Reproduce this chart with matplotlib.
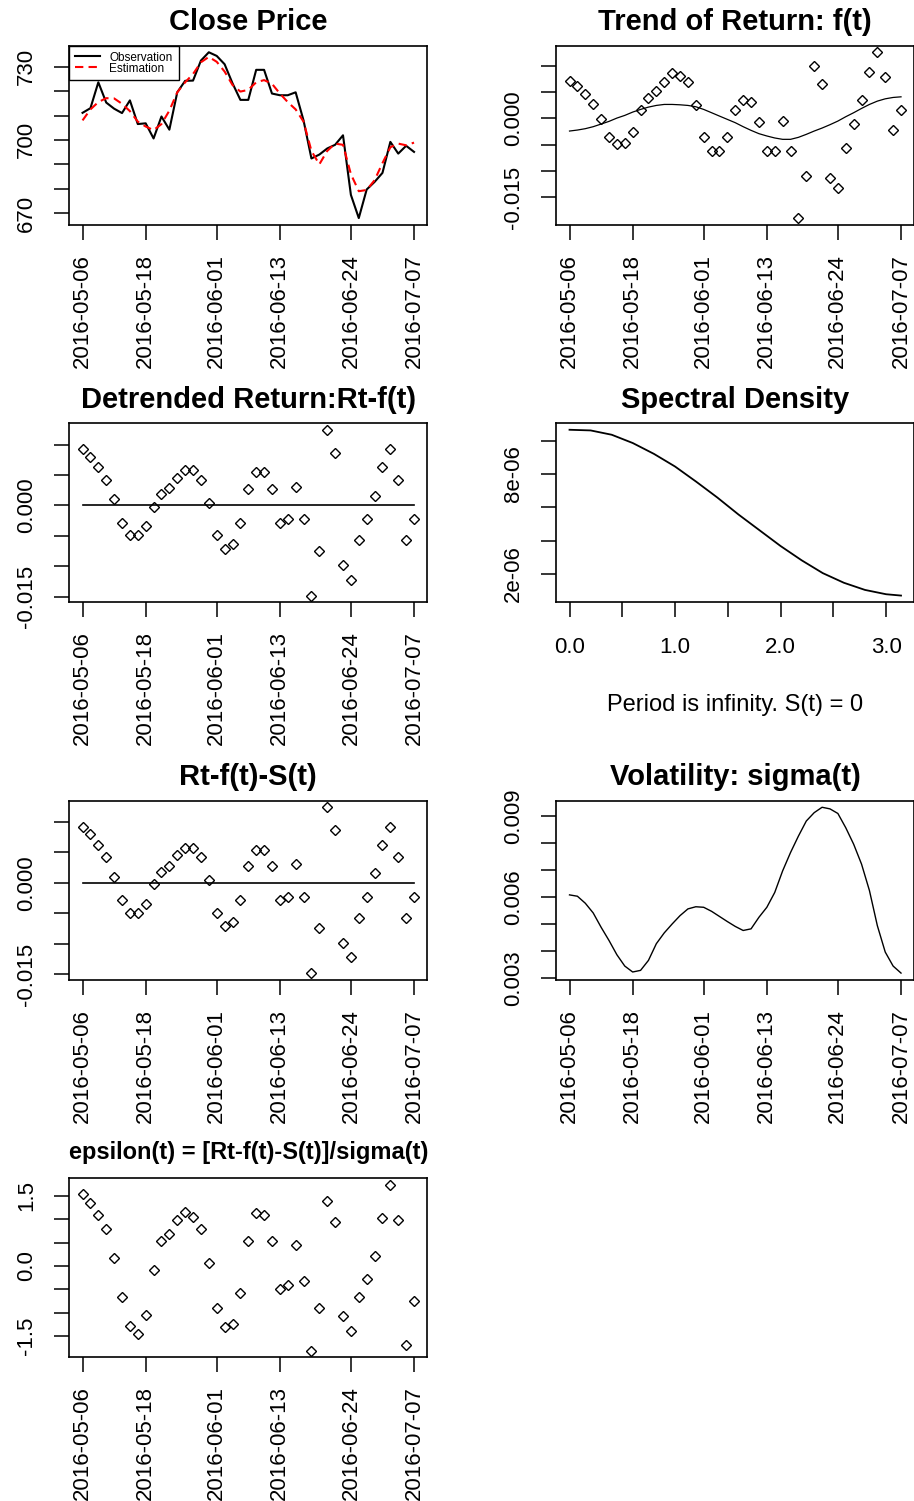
import numpy as np
import matplotlib.pyplot as plt

plt.rcParams['font.family'] = ['Liberation Sans', 'DejaVu Sans']
plt.rcParams['axes.xmargin'] = 0.04
plt.rcParams['axes.ymargin'] = 0.04

# trading days shown on the x axis
dates = ['2016-05-06', '2016-05-09', '2016-05-10', '2016-05-11', '2016-05-12', '2016-05-13',
         '2016-05-16', '2016-05-17', '2016-05-18', '2016-05-19', '2016-05-20', '2016-05-23',
         '2016-05-24', '2016-05-25', '2016-05-26', '2016-05-27', '2016-05-31', '2016-06-01',
         '2016-06-02', '2016-06-03', '2016-06-06', '2016-06-07', '2016-06-08', '2016-06-09',
         '2016-06-10', '2016-06-13', '2016-06-14', '2016-06-15', '2016-06-16', '2016-06-17',
         '2016-06-20', '2016-06-21', '2016-06-22', '2016-06-23', '2016-06-24', '2016-06-27',
         '2016-06-28', '2016-06-29', '2016-06-30', '2016-07-01', '2016-07-05', '2016-07-06',
         '2016-07-07']
date_ticks = ['2016-05-06', '2016-05-18', '2016-06-01', '2016-06-13', '2016-06-24', '2016-07-07']

close_obs = [711.1, 713.0, 723.6, 715.3, 712.8, 711.0, 716.2, 706.5, 706.8, 700.6,
             709.6, 704.2, 719.5, 724.2, 724.3, 732.5, 735.9, 734.4, 731.0, 723.2,
             716.4, 716.4, 728.7, 728.7, 719.0, 718.3, 718.3, 719.5, 708.0, 692.4,
             694.0, 696.5, 698.0, 701.9, 677.5, 668.0, 679.7, 682.8, 686.5, 699.2,
             694.4, 697.6, 695.1]
close_est = [708.0, 712.5, 715.5, 717.1, 717.0, 714.8, 711.8, 707.5, 705.5, 704.0,
             706.5, 712.0, 719.5, 723.6, 727.0, 731.8, 734.0, 732.0, 728.0, 722.5,
             719.8, 720.5, 723.6, 724.5, 723.0, 719.0, 715.5, 712.5, 707.5, 695.5,
             690.0, 695.5, 698.5, 698.0, 686.0, 679.0, 679.5, 683.5, 690.5, 697.0,
             698.5, 697.8, 698.9]

returns = [0.00722, 0.00614, 0.00456, 0.00278, -0.00006, -0.00348, -0.00494, -0.00462,
           -0.00253, 0.00152, 0.0038, 0.00525, 0.00696, 0.00867, 0.00816, 0.0069,
           0.00247, -0.00348, -0.0062, -0.0062, -0.00348, 0.00152, 0.0036, 0.00316,
           -0.00063, -0.0062, -0.0062, -0.00051, -0.0062, -0.01899, -0.01095, 0.00994,
           0.00646, -0.01127, -0.01329, -0.00557, -0.00114, 0.0036, 0.0088, 0.0126,
           0.00791, -0.00222, 0.00158]
trend = [-0.00241, -0.00222, -0.00196, -0.00158, -0.00108, -0.00057, 0.00006, 0.00057,
         0.0012, 0.00171, 0.00215, 0.00247, 0.00266, 0.00266, 0.00259, 0.00247,
         0.00222, 0.00171, 0.00108, 0.00044, -0.00019, -0.00082, -0.00158, -0.00228,
         -0.00291, -0.00335, -0.00373, -0.00399, -0.00399, -0.00361, -0.00304, -0.00241,
         -0.00184, -0.0012, -0.00051, 0.00032, 0.00108, 0.0019, 0.00266, 0.00329,
         0.00373, 0.00399, 0.00411]
detrended = [0.00923, 0.00796, 0.00624, 0.00425, 0.00105, -0.00282, -0.00486, -0.00486,
             -0.00343, -0.00022, 0.00182, 0.00282, 0.00453, 0.00575, 0.00575, 0.00425,
             0.00044, -0.00486, -0.00713, -0.00635, -0.00282, 0.00276, 0.00541, 0.00541,
             0.00276, -0.00282, -0.00227, 0.00304, -0.00227, -0.01481, -0.00746, 0.01243,
             0.00862, -0.00983, -0.01221, -0.00575, -0.00227, 0.00155, 0.00624, 0.00923,
             0.00425, -0.00575, -0.00227]
seasonal = [0.0] * 43

freq = [0.0, 0.2, 0.4, 0.6, 0.8, 1.0, 1.2, 1.4, 1.6, 1.8, 2.0, 2.2, 2.4, 2.6, 2.8, 3.0, 3.1416]
spec = [10.66e-6, 10.62e-6, 10.36e-6, 9.86e-6, 9.21e-6, 8.45e-6, 7.54e-6, 6.59e-6, 5.57e-6,
        4.62e-6, 3.67e-6, 2.81e-6, 2.04e-6, 1.46e-6, 1.03e-6, 0.77e-6, 0.69e-6]

sigma = [0.00608, 0.00603, 0.00577, 0.00541, 0.00488, 0.00439, 0.00386, 0.00344, 0.00322,
         0.00328, 0.00365, 0.00427, 0.00467, 0.005, 0.00531, 0.00556, 0.00564, 0.00562,
         0.00547, 0.00528, 0.00509, 0.00491, 0.00476, 0.00482, 0.00525, 0.00562, 0.00617,
         0.00697, 0.00765, 0.00826, 0.00882, 0.00913, 0.00933, 0.00927, 0.0091, 0.00857,
         0.00796, 0.00722, 0.00624, 0.00494, 0.00396, 0.00344, 0.00318]

epsilon = [1.542, 1.349, 1.09, 0.782, 0.179, -0.66, -1.277, -1.463, -1.04, -0.086, 0.524,
           0.674, 0.976, 1.162, 1.054, 0.782, 0.065, -0.889, -1.313, -1.234, -0.588, 0.524,
           1.133, 1.098, 0.524, -0.502, -0.409, 0.438, -0.323, -1.808, -0.889, 1.399, 0.94,
           -1.076, -1.385, -0.66, -0.287, 0.208, 1.019, 1.736, 0.976, -1.686, -0.739]

x = np.arange(len(dates))
tick_pos = [dates.index(d) for d in date_ticks]

fig = plt.figure(figsize=(9.14, 15.01), dpi=100)
lefts = [0.0758, 0.6086]
bottoms = [0.8503, 0.5988, 0.3473, 0.0958]
w, h = 0.3917, 0.1193
marker = dict(ls='none', marker='D', ms=5.2, mfc='none', mec='black', mew=1.0)


def make_ax(row, col):
    ax = fig.add_axes([lefts[col], bottoms[row], w, h])
    for s in ax.spines.values():
        s.set_linewidth(1.2)
    ax.tick_params(direction='out', length=11, width=1.1, labelsize=16)
    ax.tick_params(axis='y', pad=12)
    ax.tick_params(axis='x', pad=10)
    return ax


def y_axis(ax, ticks, labels):
    ax.set_yticks(ticks)
    ax.set_yticklabels(labels, rotation=90, va='center')


def date_axis(ax):
    ax.set_xticks(tick_pos)
    ax.set_xticklabels(date_ticks, rotation=90, va='top')


# Close Price
ax = make_ax(0, 0)
ax.plot(x, close_obs, color='black', lw=1.5, label='Observation')
ax.plot(x, close_est, color='red', lw=1.5, ls=(0, (4, 2.5)), label='Estimation')
y_axis(ax, [670, 680, 690, 700, 710, 720, 730], ['670', '', '', '700', '', '', '730'])
date_axis(ax)
ax.set_title('Close Price', fontsize=21, fontweight='bold', pad=11)
leg = ax.legend(loc='upper left', borderaxespad=0, fancybox=False, edgecolor='black',
                framealpha=1, fontsize=8.5, handlelength=2.1, labelspacing=-0.08,
                borderpad=0.5, handletextpad=0.8)
leg.get_frame().set_linewidth(1.0)

ret_ticks = [-0.015, -0.010, -0.005, 0.0, 0.005, 0.010]
ret_labels = ['-0.015', '', '', '0.000', '', '']

# Trend of Return
ax = make_ax(0, 1)
ax.plot(x, returns, **marker)
ax.plot(x, trend, color='black', lw=0.9)
y_axis(ax, ret_ticks, ret_labels)
date_axis(ax)
ax.set_title('Trend of Return: f(t)', fontsize=21, fontweight='bold', pad=11)

# Detrended Return
ax = make_ax(1, 0)
ax.plot(x, detrended, **marker)
ax.plot(x, seasonal, color='black', lw=1.2)
y_axis(ax, ret_ticks, ret_labels)
date_axis(ax)
ax.set_title('Detrended Return:Rt-f(t)', fontsize=21, fontweight='bold', pad=11)

# Spectral Density
ax = make_ax(1, 1)
ax.plot(freq, spec, color='black', lw=1.3)
y_axis(ax, [2e-6, 4e-6, 6e-6, 8e-6, 10e-6], ['2e-06', '', '', '8e-06', ''])
ax.set_xticks([0.0, 0.5, 1.0, 1.5, 2.0, 2.5, 3.0])
ax.set_xticklabels(['0.0', '', '1.0', '', '2.0', '', '3.0'])
ax.tick_params(axis='x', pad=14)
ax.set_xlabel('Period is infinity. S(t) = 0', fontsize=17, labelpad=26)
ax.set_title('Spectral Density', fontsize=21, fontweight='bold', pad=11)

# Rt-f(t)-S(t)
ax = make_ax(2, 0)
ax.plot(x, detrended, **marker)
ax.plot(x, seasonal, color='black', lw=1.2)
y_axis(ax, ret_ticks, ret_labels)
date_axis(ax)
ax.set_title('Rt-f(t)-S(t)', fontsize=21, fontweight='bold', pad=11)

# Volatility
ax = make_ax(2, 1)
ax.plot(x, sigma, color='black', lw=1.0)
y_axis(ax, [0.003, 0.004, 0.005, 0.006, 0.007, 0.008, 0.009],
       ['0.003', '', '', '0.006', '', '', '0.009'])
date_axis(ax)
ax.set_title('Volatility: sigma(t)', fontsize=21, fontweight='bold', pad=11)

# epsilon
ax = make_ax(3, 0)
ax.plot(x, epsilon, **marker)
y_axis(ax, [-1.5, -1.0, -0.5, 0.0, 0.5, 1.0, 1.5], ['-1.5', '', '', '0.0', '', '', '1.5'])
date_axis(ax)
ax.set_title('epsilon(t) = [Rt-f(t)-S(t)]/sigma(t)', fontsize=17, fontweight='bold', pad=14)

fig.savefig('out.png', dpi=100)
